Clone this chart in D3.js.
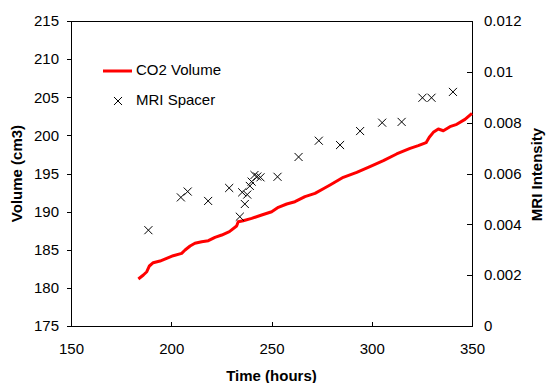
<!DOCTYPE html>
<html>
<head>
<meta charset="utf-8">
<title>CO2 Volume and MRI Spacer</title>
<script src="https://d3js.org/d3.v7.min.js"></script>
<style>
  body { margin: 0; background: #fff; }
  svg { font-family: "Liberation Sans", Arial, sans-serif; }
  .axis text { font-size: 15px; fill: #000; }
  .axis path, .axis line { stroke: #000; shape-rendering: crispEdges; }
  .title { font-size: 15px; font-weight: bold; fill: #000; }
  .legend text { font-size: 15px; fill: #000; }
</style>
</head>
<body>
<svg width="546" height="383"></svg>
<script>
// CO2 volume trace (time in hours, volume in cm3)
const timeCO2 = [183.6, 186.1, 187.8, 189.1, 191.0, 194.4, 197.7, 201.0, 205.2, 206.9,
  209.4, 211.8, 215.2, 218.5, 221.8, 225.2, 229.0, 232.6, 233.4, 235.9,
  240.1, 245.1, 250.1, 253.4, 257.6, 261.7, 266.7, 271.7, 276.3, 279.2,
  285.8, 292.5, 299.1, 305.8, 312.4, 319.1, 323.2, 327.1, 328.7, 330.7,
  333.2, 335.7, 339.0, 342.4, 346.5, 350.0];
const volumeCO2 = [181.16, 181.69, 182.12, 182.87, 183.3, 183.52, 183.88, 184.22, 184.53, 184.97,
  185.49, 185.85, 186.06, 186.19, 186.63, 186.93, 187.37, 188.11, 188.68, 188.81,
  189.12, 189.56, 189.99, 190.57, 191.0, 191.3, 191.96, 192.4, 193.06, 193.49,
  194.5, 195.16, 195.9, 196.68, 197.56, 198.3, 198.65, 199.04, 199.75, 200.4,
  200.84, 200.61, 201.14, 201.45, 202.1, 202.9];

// MRI spacer intensity (secondary axis)
const timeMRI = [188.6, 204.8, 208.2, 218.4, 228.9, 234.2, 235.4, 236.7, 237.9, 239.2,
  240.1, 241.5, 242.9, 244.5, 253.0, 263.5, 273.6, 284.2, 294.2, 305.2,
  314.9, 325.3, 329.8, 340.5];
const intensityMRI = [0.00377, 0.00506, 0.00529, 0.00492, 0.00543, 0.00430, 0.00526, 0.00480, 0.00517, 0.00551,
  0.00568, 0.00594, 0.00588, 0.00585, 0.00587, 0.00665, 0.00729, 0.00712, 0.00767, 0.00800,
  0.00803, 0.00898, 0.00898, 0.00921];

const xTicks = [150, 200, 250, 300, 350];
const yTicks = [175, 180, 185, 190, 195, 200, 205, 210, 215];
const y2Ticks = [0, 0.002, 0.004, 0.006, 0.008, 0.01, 0.012];
const seriesNames = ["CO2 Volume", "MRI Spacer"];

const margin = { top: 21, right: 74, bottom: 57, left: 71 };
const width = 546 - margin.left - margin.right;
const height = 383 - margin.top - margin.bottom;

const svg = d3.select("svg")
  .append("g")
  .attr("transform", `translate(${margin.left}, ${margin.top})`);

const x = d3.scaleLinear().domain([150, 350]).range([0, width]);
const y = d3.scaleLinear().domain([175, 215]).range([height, 0]);
const y2 = d3.scaleLinear().domain([0, 0.012]).range([height, 0]);

// plot frame
svg.append("rect")
  .attr("width", width)
  .attr("height", height)
  .attr("fill", "none")
  .attr("stroke", "#000")
  .attr("shape-rendering", "crispEdges");

svg.append("g")
  .attr("class", "axis")
  .attr("transform", `translate(0, ${height})`)
  .call(d3.axisBottom(x).tickValues(xTicks).tickSize(-4).tickSizeOuter(0).tickPadding(17))
  .call(g => g.select(".domain").remove());

svg.append("g")
  .attr("class", "axis")
  .call(d3.axisLeft(y).tickValues(yTicks).tickSize(4).tickSizeOuter(0).tickPadding(8))
  .call(g => g.select(".domain").remove());

svg.append("g")
  .attr("class", "axis")
  .attr("transform", `translate(${width}, 0)`)
  .call(d3.axisRight(y2).tickValues(y2Ticks).tickSize(-5).tickSizeOuter(0).tickPadding(12)
    .tickFormat(d => String(+d.toFixed(3))))
  .call(g => g.select(".domain").remove());

// axis titles
svg.append("text")
  .attr("class", "title")
  .attr("x", width / 2)
  .attr("y", height + 55)
  .attr("text-anchor", "middle")
  .text("Time (hours)");

svg.append("text")
  .attr("class", "title")
  .attr("transform", `translate(${-54}, ${height / 2}) rotate(-90)`)
  .attr("text-anchor", "middle")
  .attr("dy", "0.35em")
  .text("Volume (cm3)");

svg.append("text")
  .attr("class", "title")
  .attr("transform", `translate(${width + 65}, ${height / 2 + 1}) rotate(-90)`)
  .attr("text-anchor", "middle")
  .attr("dy", "0.35em")
  .text("MRI Intensity");

// CO2 line
const co2 = timeCO2.map((t, i) => ({ t: t, v: volumeCO2[i] }));
svg.append("path")
  .datum(co2)
  .attr("fill", "none")
  .attr("stroke", "#ff0000")
  .attr("stroke-width", 3)
  .attr("stroke-linejoin", "round")
  .attr("d", d3.line().x(d => x(d.t)).y(d => y(d.v)));

// MRI markers
const mri = timeMRI.map((t, i) => ({ t: t, v: intensityMRI[i] }));
const cross = d3.symbol().type(d3.symbolX).size(44);
svg.selectAll(".mri")
  .data(mri)
  .enter()
  .append("path")
  .attr("class", "mri")
  .attr("transform", d => `translate(${x(d.t)}, ${y2(d.v)})`)
  .attr("d", cross)
  .attr("fill", "none")
  .attr("stroke", "#000")
  .attr("stroke-width", 1);

// legend
const legend = svg.append("g").attr("class", "legend");
legend.append("line")
  .attr("x1", 32).attr("x2", 61)
  .attr("y1", 50).attr("y2", 50)
  .attr("stroke", "#ff0000")
  .attr("stroke-width", 3);
legend.append("path")
  .attr("transform", "translate(47, 80)")
  .attr("d", cross)
  .attr("fill", "none")
  .attr("stroke", "#000");
legend.selectAll("text")
  .data(seriesNames)
  .enter()
  .append("text")
  .attr("x", 65)
  .attr("y", (d, i) => 49 + i * 30)
  .attr("dy", "0.35em")
  .text(d => d);
</script>
</body>
</html>
